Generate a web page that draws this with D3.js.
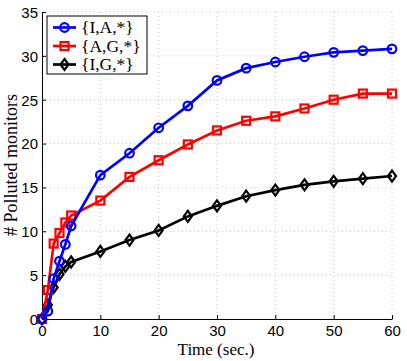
<!DOCTYPE html>
<html>
<head>
<meta charset="utf-8">
<script src="https://cdn.jsdelivr.net/npm/d3@7"></script>
<style>
  body { margin: 0; background: #fff; }
  .tick text { font-family: "Liberation Sans", Arial, sans-serif; }
</style>
</head>
<body>
<svg id="chart" width="407" height="361"></svg>
<script>
// data
let times = [0, 1, 2, 3, 4, 5, 10, 15, 20, 25, 30, 35, 40, 45, 50, 55, 60];
let seriesIA = [0, 0.9, 4.6, 6.6, 8.5, 10.6, 16.4, 18.9, 21.8, 24.3, 27.2, 28.6, 29.3, 29.9, 30.4, 30.6, 30.8];
let seriesAG = [0, 3.3, 8.6, 9.8, 11.0, 11.8, 13.5, 16.2, 18.1, 19.9, 21.5, 22.6, 23.1, 24.0, 25.0, 25.7, 25.7];
let seriesIG = [0, 1.6, 3.6, 5.1, 6.0, 6.5, 7.7, 9.0, 10.1, 11.7, 12.9, 14.0, 14.7, 15.3, 15.7, 16.0, 16.3];
let names = ['{I,A,*}', '{A,G,*}', '{I,G,*}'];
let colors = ['#0000ff', '#ff0000', '#000000'];
let markers = ['circle', 'square', 'diamond'];
let xTicks = [0, 10, 20, 30, 40, 50, 60];
let yTicks = [0, 5, 10, 15, 20, 25, 30, 35];

let svg = d3.select('#chart');
let padLeft = 42, padRight = 392, padTop = 12, padBottom = 319;

let x = d3.scaleLinear().domain([0, 60]).range([padLeft, padRight]);
let y = d3.scaleLinear().domain([0, 35]).range([padBottom, padTop]);

// 网格
let grid = svg.append('g');
xTicks.forEach(t => {
    grid.append('line').attr('x1', x(t)).attr('x2', x(t)).attr('y1', padTop).attr('y2', padBottom)
        .attr('stroke', '#c8c8c8').attr('stroke-width', 1).attr('stroke-dasharray', '1,3');
});
yTicks.forEach(t => {
    grid.append('line').attr('x1', padLeft).attr('x2', padRight).attr('y1', y(t)).attr('y2', y(t))
        .attr('stroke', '#c8c8c8').attr('stroke-width', 1).attr('stroke-dasharray', '1,3');
});

// 坐标轴
let xAxis = svg.append('g').attr('transform', `translate(0,${padBottom})`)
    .call(d3.axisBottom(x).tickValues(xTicks).tickSizeInner(-4).tickSizeOuter(0).tickPadding(6));
let yAxis = svg.append('g').attr('transform', `translate(${padLeft},0)`)
    .call(d3.axisLeft(y).tickValues(yTicks).tickSizeInner(-4).tickSizeOuter(0).tickPadding(4));
[xAxis, yAxis].forEach(a => {
    a.select('.domain').attr('stroke', '#000').attr('stroke-width', 1);
    a.selectAll('.tick line').attr('stroke', '#000');
    a.selectAll('.tick text').attr('font-size', 15).attr('fill', '#000');
});
yAxis.selectAll('.tick text').attr('dy', '0.36em');

// 标记
function drawMarker(g, type, cx, cy, color) {
    if (type == 'circle') {
        g.append('circle').attr('cx', cx).attr('cy', cy).attr('r', 4.3)
            .attr('fill', 'none').attr('stroke', color).attr('stroke-width', 2.2);
    } else if (type == 'square') {
        g.append('rect').attr('x', cx - 4).attr('y', cy - 4).attr('width', 8).attr('height', 8)
            .attr('fill', 'none').attr('stroke', color).attr('stroke-width', 2.2);
    } else {
        g.append('path').attr('d', `M${cx},${cy - 5.5}L${cx + 4},${cy}L${cx},${cy + 5.5}L${cx - 4},${cy}Z`)
            .attr('fill', 'none').attr('stroke', color).attr('stroke-width', 2.2);
    }
}

let allSeries = [seriesIA, seriesAG, seriesIG];
let line = d3.line().x((d, i) => x(times[i])).y(d => y(d));
let plot = svg.append('g');
// 画的顺序: 黑, 红, 蓝
[2, 1, 0].forEach(k => {
    let g = plot.append('g');
    g.append('path').datum(allSeries[k]).attr('d', line)
        .attr('fill', 'none').attr('stroke', colors[k]).attr('stroke-width', 2.7);
    allSeries[k].forEach((v, i) => drawMarker(g, markers[k], x(times[i]), y(v), colors[k]));
});

// 图例
let legend = svg.append('g');
legend.append('rect').attr('x', 47).attr('y', 16).attr('width', 100).attr('height', 58)
    .attr('fill', '#fff').attr('stroke', '#000').attr('stroke-width', 1);
names.forEach((n, k) => {
    let ly = 27.5 + k * 18.5;
    legend.append('line').attr('x1', 53).attr('x2', 76).attr('y1', ly).attr('y2', ly)
        .attr('stroke', colors[k]).attr('stroke-width', 2.7);
    drawMarker(legend, markers[k], 64.5, ly, colors[k]);
    legend.append('text').attr('x', 81).attr('y', ly + 5.5).text(n)
        .attr('font-family', '"Liberation Serif", "DejaVu Serif", serif')
        .attr('font-size', 17.5).attr('fill', '#000');
});

// 轴标题
svg.append('text').attr('x', 216).attr('y', 355).attr('text-anchor', 'middle')
    .attr('font-family', '"Liberation Serif", "DejaVu Serif", serif').attr('font-size', 17)
    .text('Time (sec.)');
svg.append('text').attr('transform', `translate(17,165) rotate(-90)`)
    .attr('text-anchor', 'middle')
    .attr('font-family', '"Liberation Serif", "DejaVu Serif", serif').attr('font-size', 18)
    .text('# Polluted monitors');
</script>
</body>
</html>
